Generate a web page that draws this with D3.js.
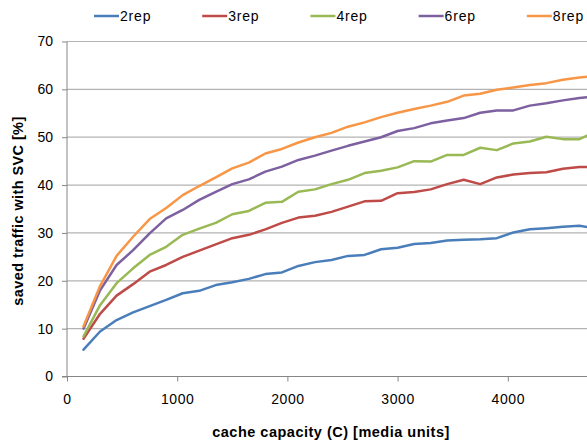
<!DOCTYPE html>
<html><head><meta charset="utf-8">
<script src="https://cdn.jsdelivr.net/npm/d3@7"></script>
<style>body{margin:0;background:#fff}svg{display:block}text{font-family:"Liberation Sans",Arial,sans-serif}</style>
</head><body><svg id="c" width="587" height="441"></svg>
<script>
const xValues = [150,300,450,600,750,900,1050,1200,1350,1500,1650,1800,1950,2100,2250,2400,2550,2700,2850,3000,3150,3300,3450,3600,3750,3900,4050,4200,4350,4500,4650,4800];
const rep2 = [5.6,9.4,11.8,13.4,14.7,16.0,17.4,17.9,19.1,19.7,20.4,21.4,21.75,23.1,23.9,24.35,25.2,25.4,26.6,26.9,27.7,27.9,28.4,28.6,28.7,28.9,30.1,30.75,31.0,31.3,31.5,30.9];
const rep3 = [7.9,13.1,16.9,19.3,21.9,23.3,25.0,26.3,27.6,28.9,29.6,30.75,32.1,33.2,33.6,34.4,35.5,36.6,36.7,38.3,38.55,39.1,40.2,41.1,40.2,41.6,42.2,42.5,42.7,43.4,43.8,43.8];
const rep4 = [8.4,14.9,19.5,22.6,25.4,27.1,29.6,30.9,32.1,33.9,34.6,36.3,36.5,38.6,39.1,40.2,41.1,42.5,43.0,43.7,45.0,44.9,46.3,46.3,47.8,47.3,48.7,49.1,50.1,49.6,49.6,51.2];
const rep6 = [10.0,18.0,23.3,26.4,29.9,33.05,34.8,36.9,38.6,40.2,41.2,42.8,43.85,45.25,46.15,47.2,48.2,49.1,50.0,51.3,51.9,52.9,53.5,54.0,55.1,55.6,55.6,56.6,57.1,57.7,58.2,58.5];
const rep8 = [10.5,18.9,25.2,29.2,32.9,35.2,37.9,39.8,41.6,43.5,44.7,46.6,47.55,48.9,50.0,50.9,52.2,53.1,54.2,55.1,55.9,56.6,57.4,58.7,59.1,59.9,60.4,60.9,61.3,62.0,62.5,62.8];
const seriesNames = ["2rep","3rep","4rep","6rep","8rep"];
const seriesValues = [rep2,rep3,rep4,rep6,rep8];
const colors = ["#4a7ebb","#be4b48","#98b954","#7d60a0","#f79646"];
const xTicks = [0,1000,2000,3000,4000];
const yTicks = [0,10,20,30,40,50,60,70];

const svg = d3.select("#c");
const x = d3.scaleLinear().domain([0,5000]).range([67,618]);
const y = d3.scaleLinear().domain([0,70]).range([376.5,41.5]);

// gridlines
svg.append("g").selectAll("line").data(yTicks.filter(d=>d>0)).join("line")
  .attr("x1",67).attr("x2",587).attr("y1",d=>y(d)).attr("y2",d=>y(d))
  .attr("stroke","#b3b3b3").attr("stroke-width",1.2);

// y axis
const ya = svg.append("g").attr("transform","translate(67,0)")
  .call(d3.axisLeft(y).tickValues(yTicks).tickSize(5).tickPadding(8));
ya.select(".domain").attr("stroke","#868686").attr("d","M0,376.5V41.5");
ya.selectAll(".tick line").attr("stroke","#868686");
ya.selectAll("text").attr("font-size",14).attr("fill","#000").attr("dx",-1);

// x axis
const xa = svg.append("g").attr("transform","translate(0,376.5)")
  .call(d3.axisBottom(x).tickValues(xTicks).tickSize(5).tickPadding(13).tickFormat(d3.format("d")));
xa.select(".domain").attr("stroke","#868686").attr("d","M62,0H587");
xa.selectAll(".tick line").attr("stroke","#868686");
xa.selectAll("text").attr("font-size",14).attr("fill","#000").attr("letter-spacing","0.6px");

// lines
const line = d3.line().x((d,i)=>x(xValues[i])).y(d=>y(d));
svg.append("g").selectAll("path").data(seriesValues).join("path")
  .attr("d",d=>line(d)).attr("fill","none")
  .attr("stroke",(d,i)=>colors[i]).attr("stroke-width",2.5)
  .attr("stroke-linejoin","round").attr("stroke-linecap","round");

// legend
const lg = svg.append("g").selectAll("g").data(seriesNames).join("g")
  .attr("transform",(d,i)=>`translate(${94+i*108.2},16)`);
lg.append("line").attr("x1",0).attr("x2",25).attr("stroke",(d,i)=>colors[i]).attr("stroke-width",2.5);
lg.append("text").attr("x",26).attr("y",5).attr("font-size",14).attr("letter-spacing","0.8px").text(d=>d);

// axis titles
svg.append("text").attr("x",331).attr("y",437).attr("text-anchor","middle")
  .attr("font-size",14.5).attr("font-weight","bold").attr("letter-spacing","0.5px")
  .text("cache capacity  (C) [media units]");
svg.append("text").attr("transform","translate(23,211) rotate(-90)").attr("text-anchor","middle")
  .attr("font-size",14.5).attr("font-weight","bold").attr("letter-spacing","0.4px")
  .text("saved traffic with SVC [%]");
</script></body></html>
